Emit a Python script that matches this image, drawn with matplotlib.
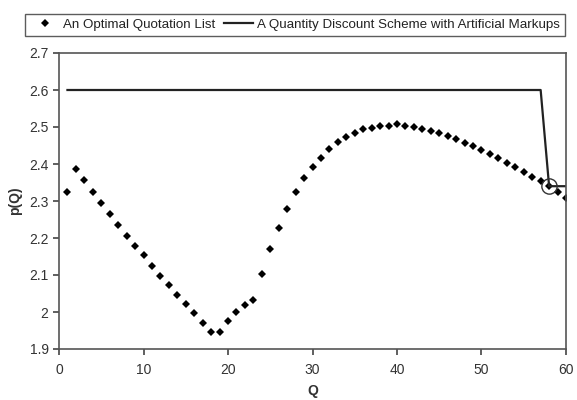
import matplotlib
matplotlib.use('Agg')
import matplotlib.pyplot as plt
from matplotlib.ticker import FuncFormatter

plt.rcParams['font.family'] = ['Liberation Sans', 'DejaVu Sans']

# optimal quotation list, Q = 1..60
q_points = list(range(1, 61))
p_points = [2.324, 2.386, 2.356, 2.324, 2.294, 2.264, 2.236, 2.205, 2.179, 2.153,
            2.125, 2.097, 2.072, 2.047, 2.022, 1.996, 1.971, 1.946, 1.946, 1.977,
            2.000, 2.018, 2.032, 2.102, 2.171, 2.228, 2.278, 2.324, 2.361, 2.391,
            2.417, 2.440, 2.459, 2.473, 2.485, 2.494, 2.498, 2.503, 2.504, 2.507,
            2.504, 2.501, 2.494, 2.490, 2.484, 2.476, 2.468, 2.458, 2.449, 2.438,
            2.426, 2.415, 2.404, 2.392, 2.378, 2.366, 2.353, 2.341, 2.323, 2.308]

# quantity discount scheme with artificial markups
q_scheme = [1, 57, 58, 60]
p_scheme = [2.6, 2.6, 2.34, 2.34]

# circled point
q_mark, p_mark = 58, 2.341

fig = plt.figure(figsize=(5.77, 4.0), dpi=100)
ax = fig.add_axes([59 / 577, 51 / 400, 507 / 577, 296 / 400])

sc, = ax.plot(q_points, p_points, 'D', color='black', markersize=4.2,
              markeredgewidth=0, label='An Optimal Quotation List')
ln, = ax.plot(q_scheme, p_scheme, '-', color='#222222', linewidth=1.6,
              label='A Quantity Discount Scheme with Artificial Markups')
ax.plot([q_mark], [p_mark], 'o', markersize=11, markerfacecolor='none',
        markeredgecolor='#333333', markeredgewidth=1.0)

ax.set_xlim(0, 60)
ax.set_ylim(1.9, 2.7)
ax.set_xticks(range(0, 61, 10))
ax.set_yticks([1.9, 2.0, 2.1, 2.2, 2.3, 2.4, 2.5, 2.6, 2.7])
ax.yaxis.set_major_formatter(FuncFormatter(lambda v, pos: ('%.1f' % v).rstrip('0').rstrip('.')))
ax.tick_params(direction='out', length=4, width=1.2, labelsize=10, color='#444444',
               labelcolor='#333333')
ax.tick_params(axis='x', pad=6)
for s in ax.spines.values():
    s.set_color('#555555')
    s.set_linewidth(1.2)

ax.set_xlabel('Q', fontsize=10, fontweight='bold', color='#333333', labelpad=5)
ax.set_ylabel('p(Q)', fontsize=10, fontweight='bold', color='#333333', labelpad=5)

leg = fig.legend(handles=[sc, ln], loc='center', bbox_to_anchor=(295 / 577, 1 - 25 / 400),
                 ncol=2, fontsize=9.6, frameon=True, fancybox=False,
                 edgecolor='#333333', handlelength=2.2, handletextpad=0.3,
                 columnspacing=0.6, borderpad=0.35)
leg.get_frame().set_linewidth(1.0)
for t in leg.get_texts():
    t.set_color('#222222')

fig.savefig('out.png', dpi=100)
